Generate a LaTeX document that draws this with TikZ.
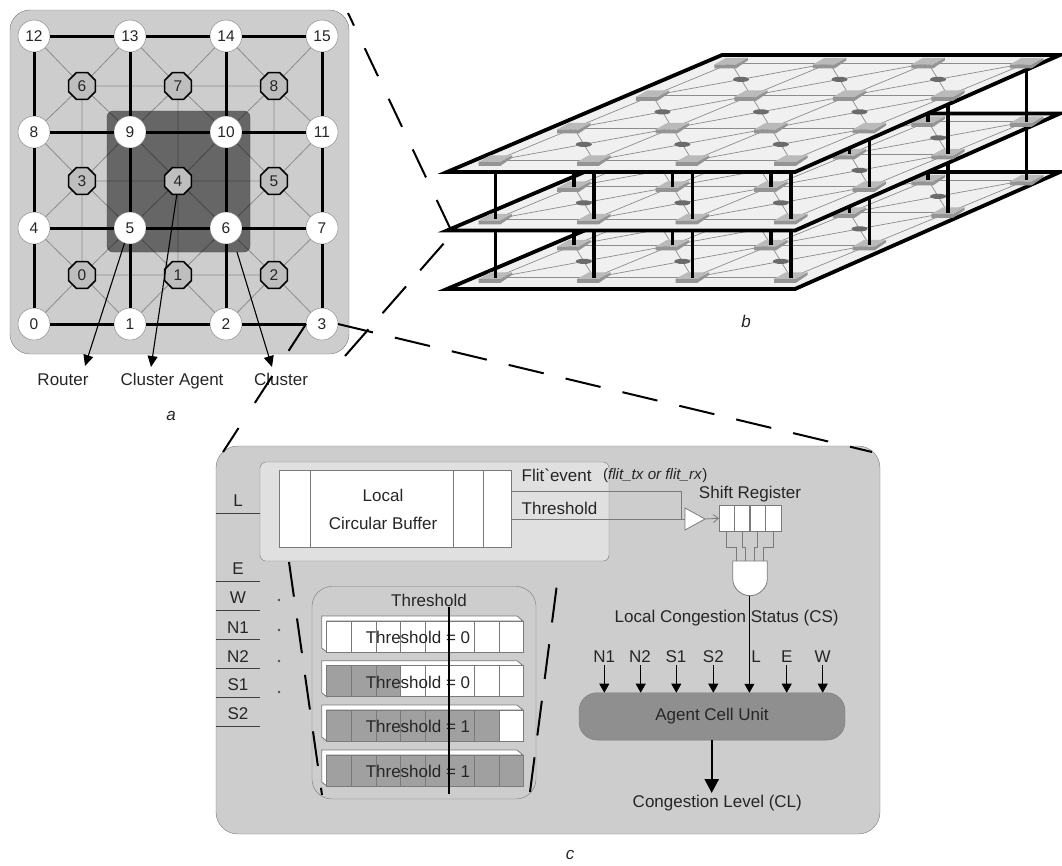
\documentclass[tikz,border=0pt]{standalone}
\usepackage{fontspec}
\setmainfont[Ligatures=TeXOff]{Liberation Sans}
\usetikzlibrary{arrows.meta,shapes.geometric}
\pgfdeclarelayer{back}
\pgfdeclarelayer{links}
\pgfsetlayers{back,links,main}
\definecolor{panelgray}{HTML}{CDCDCD}
\definecolor{softgray}{HTML}{E0E0E0}
\definecolor{wiregray}{HTML}{7A7A7A}
\definecolor{thingray}{HTML}{8C8C8C}
\definecolor{agentgray}{HTML}{BEBEBE}
\definecolor{celldark}{HTML}{A0A0A0}
\definecolor{unitgray}{HTML}{8F8F8F}
\definecolor{inkgray}{HTML}{262626}
\begin{document}
\begin{tikzpicture}[
  x=1pt,y=-1pt,
  every node/.style={inner sep=0pt,outer sep=0pt,text=inkgray,font=\fontsize{17}{20}\selectfont},
  panel/.style={rectangle,rounded corners=20pt,draw=wiregray,fill=panelgray},
  router/.style={circle,draw=wiregray,fill=white,minimum size=32pt,font=\fontsize{15.5}{18}\selectfont},
  agent/.style={regular polygon,regular polygon sides=8,draw=black,line width=1.6pt,fill=agentgray,
                minimum size=29pt,font=\fontsize{15.5}{18}\selectfont},
  thin link/.style={draw=thingray,line width=0.8pt},
  thick link/.style={draw=black,line width=3pt},
  pointer/.style={black,line width=1.1pt,-{Triangle[length=11pt,width=10pt]}},
  zoomdash/.style={black,line width=2pt},
  plate/.style={draw=black,line width=3.8pt,fill=black!6,line join=miter},
  mesh/.style={draw=black!45,line width=0.7pt},
  post/.style={black,line width=3.4pt},
  cellbox/.style={rectangle,draw=wiregray,fill=white,line width=0.8pt},
  wire/.style={draw=wiregray,line width=0.8pt},
  inport/.style={black,line width=0.7pt,-{Triangle[length=9pt,width=10pt]}},
  portline/.style={draw=black!75,line width=1pt},
  chip/.pic={
    \begin{scope}[x=1pt,y=-1pt]
      \fill[black!42] (-16.7,1.3) -- (5,1.3) -- (16.7,-5.3) -- (16.7,-2.7) -- (5,5.3) -- (-16.7,5.3) -- cycle;
      \fill[black!27] (-16.7,1.3) -- (-5,-5.3) -- (16.7,-5.3) -- (5,1.3) -- cycle;
    \end{scope}
  },
  agentdot/.pic={
    \fill[black!58] (0pt,0pt) ellipse[x radius=8pt,y radius=2.6pt];
  }
]
  \useasboundingbox (0,0) rectangle (1062,865);

  \begin{pgfonlayer}{back}
    \node[panel,minimum width=339pt,minimum height=344pt] (panela) at (179.5,182) {};
  \end{pgfonlayer}
  \node[rectangle,rounded corners=6pt,draw=black!70,fill=black,fill opacity=0.5,
        minimum width=143pt,minimum height=141pt] (cluster) at (178.5,181.5) {};

  \foreach \n/\x/\y in {0/34/324,1/130/324,2/226/324,3/322/324,
                        4/34/228,5/130/228,6/226/228,7/322/228,
                        8/34/132,9/130/132,10/226/132,11/322/132,
                        12/34/36,13/130/36,14/226/36,15/322/36}
    \node[router] (r\n) at (\x,\y) {\n};
  \foreach \n/\x/\y in {0/82/275,1/178/275,2/274/275,
                        3/82/181,4/178/181,5/274/181,
                        6/82/86,7/178/86,8/274/86}
    \node[agent] (c\n) at (\x,\y) {\n};

  \begin{pgfonlayer}{links}
    \foreach \n/\m in {0/0,1/1,2/2,3/4,4/5,5/6,6/8,7/9,8/10} {
      \pgfmathtruncatemacro{\ma}{\m+1}
      \pgfmathtruncatemacro{\mb}{\m+4}
      \pgfmathtruncatemacro{\mc}{\m+5}
      \draw[thin link] (c\n) -- (r\m);
      \draw[thin link] (c\n) -- (r\ma);
      \draw[thin link] (c\n) -- (r\mb);
      \draw[thin link] (c\n) -- (r\mc);
    }
    \foreach \a/\b in {0/1,1/2,3/4,4/5,6/7,7/8,0/3,3/6,1/4,4/7,2/5,5/8}
      \draw[thin link] (c\a) -- (c\b);
  \end{pgfonlayer}

  \foreach \a/\b in {0/1,1/2,2/3,4/5,5/6,6/7,8/9,9/10,10/11,12/13,13/14,14/15,
                     0/4,4/8,8/12,1/5,5/9,9/13,2/6,6/10,10/14,3/7,7/11,11/15}
    \draw[thick link] (r\a) -- (r\b);

  \node[anchor=base] (lblrouter) at (63,385) {Router};
  \node[anchor=base] (lblagent) at (172,385) {Cluster Agent};
  \node[anchor=base] (lblcluster) at (281,385) {Cluster};
  \node (capa) at (171,416) {\itshape a};
  \coordinate (tiprouter) at (85,366);
  \coordinate (tipagent) at (151,367);
  \coordinate (tipcluster) at (272,367);
  \coordinate (edgecluster) at (237,252);
  \draw[pointer] (r5.-110) -- (tiprouter);
  \draw[pointer] (c4.-95) -- (tipagent);
  \draw[pointer] (edgecluster) -- (tipcluster);

  \foreach \lay in {2,1,0} {
    \begin{scope}[yshift=-\lay*58.5pt]
      \draw[plate] (447,172) -- (795,172) -- (1060,55) -- (722,55) -- cycle;
      \begin{scope}[shift={(495.3,160.6)},x={(98.5pt,0pt)},y={(78.6pt,32.5pt)}]
        \foreach \k in {0,1,2,3} {
          \draw[mesh] (0,\k) -- (3,\k);
          \draw[mesh] (\k,0) -- (\k,3);
        }
        \foreach \i in {0,1,2} \foreach \j in {0,1,2} {
          \draw[mesh] (\i,\j) -- (\i+1,\j+1);
          \draw[mesh] (\i+1,\j) -- (\i,\j+1);
          \path (\i+0.5,\j+0.5) pic {agentdot};
        }
        \foreach \i in {0,1,2,3} \foreach \j in {0,1,2,3} {
          \path (\i,\j) pic {chip};
          \ifnum\lay>0
            \draw[post] (\i,\j) -- ++(0pt,58.5pt);
          \fi
        }
      \end{scope}
    \end{scope}
  }
  \node (capb) at (746,321) {\itshape b};

  \begin{pgfonlayer}{back}
    \node[panel,rounded corners=22pt,minimum width=664pt,minimum height=388pt] (panelc) at (548,640) {};
  \end{pgfonlayer}
  \node[panel,rounded corners=6pt,fill=softgray,minimum width=349pt,minimum height=99pt] (bufpanel) at (434.5,511.5) {};
  \node[cellbox,minimum width=232.5pt,minimum height=77pt] (buffer) at (395.2,508.5) {};
  \foreach \x in {310,453.5,483}
    \draw[wire] (\x,470) -- (\x,547);
  \node (lbllocal) at (383,495) {Local};
  \node (lblcirc) at (383,523) {Circular Buffer};

  \node (pl) at (238,501) {L};
  \coordinate (plend) at (216,513);
  \draw[portline] (plend) -- (plend -| bufpanel.west);
  \foreach \n/\y in {E/581,W/610,N1/639.7,N2/668.6,S1/697.6,S2/726.5} {
    \node (p\n) at (238,\y-12.5) {\n};
    \draw[portline] (216,\y) -- (260,\y);
  }
  \foreach \y in {600,630,661,692}
    \fill[black!70] (279,\y) circle[radius=1.3];

  \node[panel,minimum width=224pt,minimum height=212.5pt] (thpanel) at (424,692.7) {};
  \node (lblth) at (429,600) {Threshold};
  \foreach \by/\nd/\val in {621/0/0,665.7/3/0,710/7/1,755/8/1} {
    \draw[wire,fill=white] (321.7,\by-5) -- (517,\by-5) -- (523,\by) -- (326.7,\by) -- (326.7,\by+31) -- (321.7,\by+27) -- cycle;
    \foreach \k in {0,...,7} {
      \ifnum\k<\nd\def\cellcol{celldark}\else\def\cellcol{white}\fi
      \draw[wire,fill=\cellcol] ({326.7+24.6*\k},\by) rectangle ++(24.6,31);
    }
    \node at (418,\by+16.5) {Threshold = \val};
  }
  \coordinate (thtop) at (449,607);
  \coordinate (thbot) at (449,794);
  \draw[black,line width=1.8pt] (thtop) -- (thbot);

  \node[anchor=west] (lblflit) at (521.7,475.7) {Flit`event};
  \node[anchor=west,font=\fontsize{15.2}{18}\selectfont] (lblevent) at (603,476) {(\textit{flit\_tx or flit\_rx})};
  \node[anchor=west] (lblthresh) at (521.7,508) {Threshold};
  \node (lblshift) at (750,494) {Shift Register};

  \foreach \n/\x in {1/726.7,2/742,3/757.7,4/773.3}
    \node[cellbox,minimum width=15.6pt,minimum height=25.3pt] (sr\n) at (\x,518.3) {};
  \draw[wire,fill=white] (685,508) -- (705,519) -- (685,530) -- cycle;
  \coordinate (buftail) at (685,519);
  \coordinate (buftip) at (705,519);
  \coordinate (flitstart) at (511.7,491);
  \coordinate (flitbend) at (681,491);
  \coordinate (flitend) at (681,519);
  \coordinate (threshstart) at (511.7,519);
  \draw[wire] (flitstart) -- (flitbend) -- (flitend);
  \draw[wire] (threshstart) -- (buftail);
  \draw[wire,-{Straight Barb[length=5pt,width=8pt]}] (buftip) -- (sr1.west);

  \draw[wire,fill=white] (732.7,561) -- (767.3,561) -- (767.3,579) .. controls (767.3,588) and (759,595.7) .. (750,595.7) .. controls (741,595.7) and (732.7,588) .. (732.7,579) -- cycle;
  \coordinate (gateout) at (749.4,595.7);
  \foreach \n/\x in {1/736.7,2/745.7,3/754.3,4/763.3}
    \draw[wire] (sr\n.south) -- ++(0,16) -| (\x,561);

  \node (lblcs) at (726.7,618.3) {Local Congestion Status (CS)};
  \node[rectangle,rounded corners=18pt,draw=wiregray,fill=unitgray,minimum width=266pt,minimum height=47.3pt] (unit) at (712,716.4) {Agent Cell Unit};
  \foreach \n/\lx/\ax in {N1/604.3/604.3,N2/640/640.7,S1/676/676.3,S2/713.3/713.3,E/786.7/786.7,W/822.7/822.7} {
    \node (in\n) at (\lx,656.7) {\n};
    \draw[inport] (\ax,665) -- (\ax,692.7);
  }
  \node (inL) at (756,656.7) {L};
  \draw[wire,-{Triangle[length=9pt,width=10pt]},black] (gateout) -- (gateout |- unit.north);
  \node (lblcl) at (717.3,802.7) {Congestion Level (CL)};
  \coordinate (cltip) at (711.7,793);
  \draw[black,line width=2.4pt,-{Triangle[length=14pt,width=14pt]}] (cltip |- unit.south) -- (cltip);
  \node (capc) at (570,855) {\itshape c};

  \coordinate (ba) at (450,228);
  \coordinate (ab) at (348,13);
  \coordinate (bb) at (445,242);
  \coordinate (aa) at (345,356);
  \coordinate (ctr) at (872,452);
  \coordinate (ctl) at (223,452);
  \coordinate (thl) at (322,795);
  \coordinate (thr) at (530,792);
  \coordinate (thrtop) at (557,584);
  \coordinate (bufl) at (289,562);
  \draw[zoomdash,dash pattern=on 31pt off 25pt] (ba) -- (ab);
  \draw[zoomdash,dash pattern=on 35.5pt off 21.5pt] (aa) -- (bb);
  \draw[zoomdash,dash pattern=on 36pt off 22.5pt] (r3.east) -- (ctr);
  \draw[zoomdash,dash pattern=on 32pt off 30pt] (r3.west) -- (ctl);
  \draw[zoomdash,dash pattern=on 35pt off 22pt] (bufl) -- (thl);
  \draw[zoomdash,dash pattern=on 35pt off 22pt] (thr) -- (thrtop);
\end{tikzpicture}
\end{document}
